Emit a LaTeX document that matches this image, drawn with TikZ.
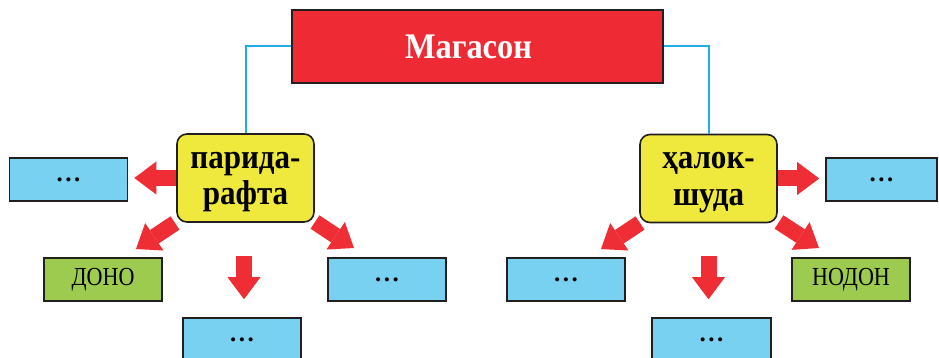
\documentclass[tikz,border=0pt]{standalone}
\usepackage{fontspec}
\setmainfont{Liberation Serif}
\newfontfamily\condA[FakeStretch=0.9]{Liberation Serif}
\newfontfamily\condB[FakeStretch=0.85]{Liberation Serif}
\usetikzlibrary{arrows.meta}
\definecolor{boxred}{HTML}{EE2B34}
\definecolor{arrred}{HTML}{EE2D35}
\definecolor{boxyel}{HTML}{EEE93C}
\definecolor{boxblue}{HTML}{79D1F2}
\definecolor{boxgreen}{HTML}{9DCB4F}
\definecolor{connblue}{HTML}{1FADE4}
\definecolor{edge}{HTML}{231F20}
\tikzset{
  base/.style={draw=edge, line width=1.6pt, inner sep=0pt, anchor=center},
  topbox/.style={base, fill=boxred, minimum width=371pt, minimum height=73pt, text=white,
     font=\condA\fontsize{36}{38}\selectfont\bfseries},
  yelbox/.style={base, fill=boxyel, rounded corners=10pt, minimum width=137pt, minimum height=88pt,
     align=center, font=\condA\fontsize{34.5}{36.5}\selectfont\bfseries},
  bluebox/.style={base, fill=boxblue, minimum width=118pt, minimum height=43pt,
     font=\fontsize{25}{26}\selectfont\bfseries},
  greenbox/.style={base, fill=boxgreen, minimum width=118pt, minimum height=43pt,
     font=\condB\fontsize{26}{28}\selectfont},
  conn/.style={draw=connblue, line width=2pt},
  blockarrow/.style={draw=arrred, line width=16pt,
     -{Triangle[width=33pt,length=22pt,line width=0pt,fill=arrred]}},
}
\newcommand\dotsx{\raisebox{-1.5pt}{.\hspace{2.6pt}.\hspace{2.6pt}.}}
\begin{document}
\begin{tikzpicture}[x=1pt,y=-1pt]
\clip (0,0) rectangle (939,358);
\fill[white] (0,0) rectangle (939,358);
% nodes
\node[topbox] (top) at (477.5,46.5) {\hspace*{-18pt}Магасон};
\node[yelbox] (L) at (245.5,178) {\rule{0pt}{24pt}парида-\\рафта};
\node[yelbox] (R) at (708.5,178.5) {\rule{0pt}{24pt}ҳалок-\\шуда};
\node[bluebox] (b1) at (68.5,179.5) {\dotsx};
\node[bluebox, minimum width=111pt] (b2) at (881.5,179.5) {\dotsx};
\node[greenbox] (dono) at (103,279.5) {ДОНО};
\node[bluebox] (lbr) at (387,279.5) {\dotsx};
\node[bluebox] (lbb) at (242,339.5) {\dotsx};
\node[bluebox] (rbl) at (566,279.5) {\dotsx};
\node[greenbox] (nodon) at (851,279.5) {НОДОН};
\node[bluebox, minimum width=119pt] (rbb) at (711.5,339.5) {\dotsx};
% blue connectors
\draw[conn] (top.west) -| (L.north);
\draw[conn] (top.east) -| (R.north);
% arrow coordinates
\coordinate (ldlT) at (175,223); \coordinate (ldlH) at (136,249);
\coordinate (ldrT) at (315,222); \coordinate (ldrH) at (354,248);
\coordinate (rdlT) at (640,223); \coordinate (rdlH) at (601,249);
\coordinate (rdrT) at (779,222); \coordinate (rdrH) at (819,248);
% red arrows
\draw[blockarrow, shorten >=6pt] (L.west) -- (L.west -| b1.east);
\draw[blockarrow, shorten >=6pt] (R.east) -- (R.east -| b2.west);
\draw[blockarrow, shorten <=33pt, shorten >=18pt] ([xshift=-1.5pt]L.south) -- ([xshift=-1.5pt]L.south |- lbb.north);
\draw[blockarrow, shorten <=33pt, shorten >=18pt] (R.south) -- (R.south |- rbb.north);
\draw[blockarrow] (ldlT) -- (ldlH);
\draw[blockarrow] (ldrT) -- (ldrH);
\draw[blockarrow] (rdlT) -- (rdlH);
\draw[blockarrow] (rdrT) -- (rdrH);
\end{tikzpicture}
\end{document}
